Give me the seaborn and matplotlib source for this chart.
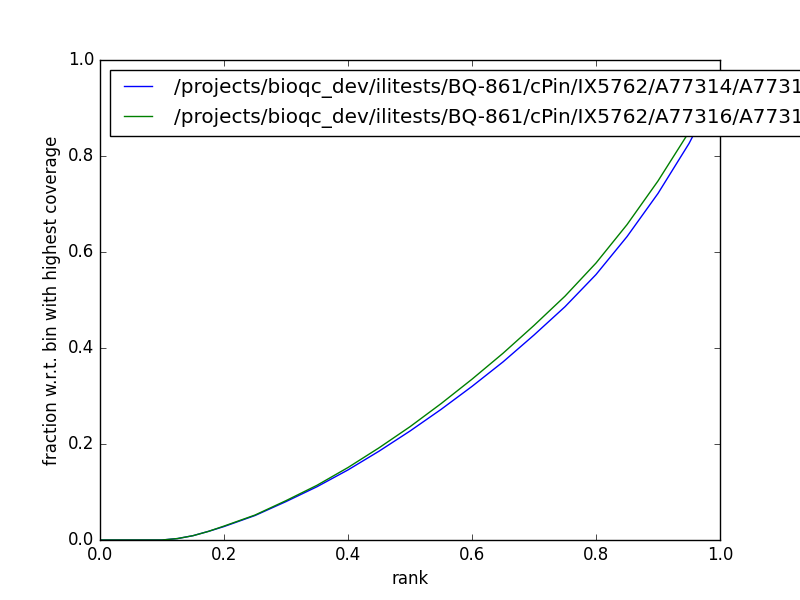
import matplotlib
matplotlib.use("Agg")
import matplotlib.pyplot as plt
import seaborn as sns
import pandas as pd

rank = [0.0, 0.05, 0.1, 0.125, 0.15, 0.175, 0.2, 0.25, 0.3, 0.35, 0.4, 0.45, 0.5,
        0.55, 0.6, 0.65, 0.7, 0.75, 0.8, 0.85, 0.9, 0.95, 1.0]
frac_a = [0.0, 0.0, 0.0, 0.003, 0.009, 0.018, 0.028, 0.051, 0.08, 0.111, 0.146, 0.185, 0.227,
          0.272, 0.32, 0.371, 0.427, 0.486, 0.553, 0.632, 0.722, 0.826, 0.95]
frac_b = [0.0, 0.0, 0.0, 0.003, 0.009, 0.018, 0.029, 0.052, 0.082, 0.114, 0.151, 0.192, 0.236,
          0.284, 0.335, 0.389, 0.447, 0.508, 0.577, 0.657, 0.748, 0.85, 0.975]
labels = ["/projects/bioqc_dev/ilitests/BQ-861/cPin/IX5762/A77314/A77314_coverage.txt",
          "/projects/bioqc_dev/ilitests/BQ-861/cPin/IX5762/A77316/A77316_coverage.txt"]

df = pd.concat([
    pd.DataFrame({"rank": rank, "frac": frac_a, "sample": labels[0]}),
    pd.DataFrame({"rank": rank, "frac": frac_b, "sample": labels[1]}),
])

plt.style.use("classic")
fig = plt.figure(figsize=(8, 6), dpi=100)
ax = fig.add_axes([0.125, 0.1, 0.775, 0.8])
sns.lineplot(data=df, x="rank", y="frac", hue="sample",
             palette=["#0000ff", "#008000"], linewidth=1.0, ax=ax)
ax.set_xlim(0, 1)
ax.set_ylim(0, 1)
ax.set_xlabel("rank")
ax.set_ylabel("fraction w.r.t. bin with highest coverage")
h, l = ax.get_legend_handles_labels()
ax.legend(h, l, loc="upper left")
fig.savefig("out.png", dpi=100, facecolor="white")
